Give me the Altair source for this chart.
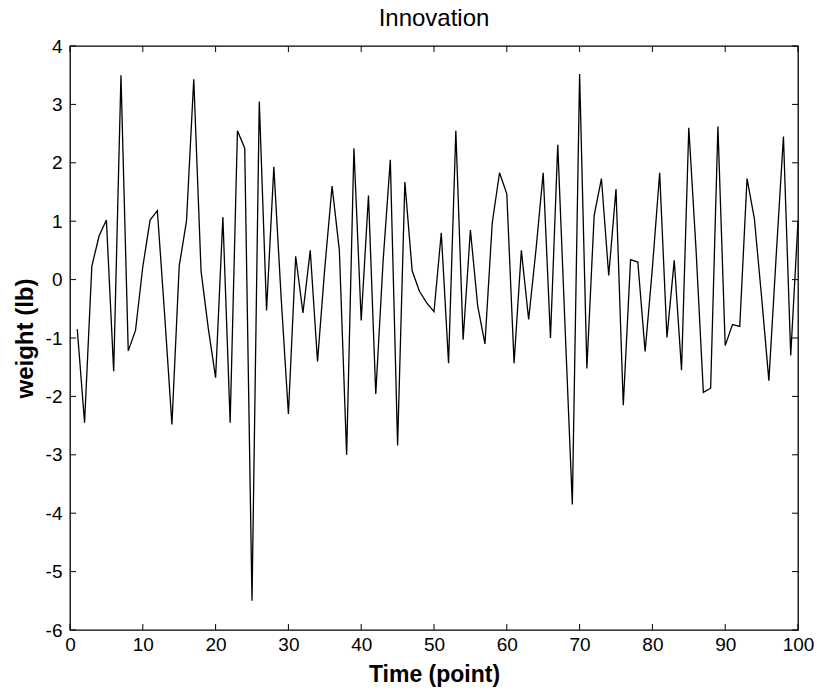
import altair as alt
import pandas as pd

t = list(range(1, 101))
v = [-0.85, -2.45, 0.23, 0.75, 1.02, -1.57, 3.5, -1.22, -0.87, 0.22,
     1.02, 1.18, -0.6, -2.48, 0.23, 1.0, 3.43, 0.15, -0.84, -1.68,
     1.07, -2.45, 2.55, 2.25, -5.5, 3.05, -0.53, 1.93, -0.3, -2.3,
     0.4, -0.57, 0.5, -1.4, 0.2, 1.6, 0.5, -3.0, 2.25, -0.7,
     1.44, -1.96, 0.3, 2.05, -2.84, 1.67, 0.15, -0.2, -0.4, -0.55,
     0.8, -1.43, 2.55, -1.03, 0.85, -0.45, -1.1, 0.97, 1.83, 1.47,
     -1.43, 0.5, -0.68, 0.5, 1.83, -1.0, 2.31, -0.8, -3.85, 3.52,
     -1.52, 1.1, 1.73, 0.07, 1.55, -2.15, 0.34, 0.3, -1.23, 0.2,
     1.83, -0.99, 0.33, -1.55, 2.6, 0.5, -1.93, -1.86, 2.62, -1.13,
     -0.77, -0.8, 1.73, 1.05, -0.3, -1.73, 0.4, 2.45, -1.3, 1.0]

x_ticks = [0, 10, 20, 30, 40, 50, 60, 70, 80, 90, 100]
y_ticks = [4, 3, 2, 1, 0, -1, -2, -3, -4, -5, -6]

W, H = 728, 584
FONT = "Liberation Sans"

df = pd.DataFrame({"t": t, "v": v})
xt = pd.DataFrame({"xt": x_ticks})
yt = pd.DataFrame({"yt": y_ticks})

xscale = alt.Scale(domain=[0, 100], nice=False, zero=False)
yscale = alt.Scale(domain=[-6, 4], nice=False, zero=False)

line = alt.Chart(df).mark_line(color="black", strokeWidth=1.3).encode(
    x=alt.X("t:Q", scale=xscale,
            axis=alt.Axis(values=x_ticks, title="Time (point)", ticks=False,
                          grid=False, domain=False, labelFontSize=19,
                          labelPadding=5, labelColor="black",
                          labelExpr="datum.value + ''",
                          titleFontSize=23, titleFont=FONT, labelFont=FONT,
                          titleFontWeight="bold", titlePadding=9,
                          titleColor="black", labelFlush=False)),
    y=alt.Y("v:Q", scale=yscale,
            axis=alt.Axis(values=y_ticks, title="weight (lb)", ticks=False,
                          grid=False, domain=False, labelFontSize=19,
                          labelPadding=8, labelColor="black",
                          labelExpr="datum.value + ''",
                          titleFontSize=24, titleFont=FONT, labelFont=FONT,
                          titleFontWeight="bold", titlePadding=8,
                          titleColor="black", labelFlush=False)),
)

tk = 6
xb = alt.Chart(xt).mark_rule(color="black", strokeWidth=1).encode(
    x=alt.X("xt:Q", scale=xscale), y=alt.value(H), y2=alt.value(H - tk))
xtop = alt.Chart(xt).mark_rule(color="black", strokeWidth=1).encode(
    x=alt.X("xt:Q", scale=xscale), y=alt.value(0), y2=alt.value(tk))
yl = alt.Chart(yt).mark_rule(color="black", strokeWidth=1).encode(
    y=alt.Y("yt:Q", scale=yscale), x=alt.value(0), x2=alt.value(tk))
yr = alt.Chart(yt).mark_rule(color="black", strokeWidth=1).encode(
    y=alt.Y("yt:Q", scale=yscale), x=alt.value(W), x2=alt.value(W - tk))

chart = alt.layer(line, xb, xtop, yl, yr).properties(
    width=W, height=H,
    title=alt.TitleParams("Innovation", fontSize=24, font=FONT,
                          fontWeight="normal", color="black", offset=6),
    autosize=alt.AutoSizeParams(type="none"),
    padding={"left": 70, "top": 46, "right": 19, "bottom": 70},
    background="white",
).configure_view(stroke="black", strokeWidth=1.3)

chart.save("out.html", embed_options={"renderer": "svg", "actions": False})
